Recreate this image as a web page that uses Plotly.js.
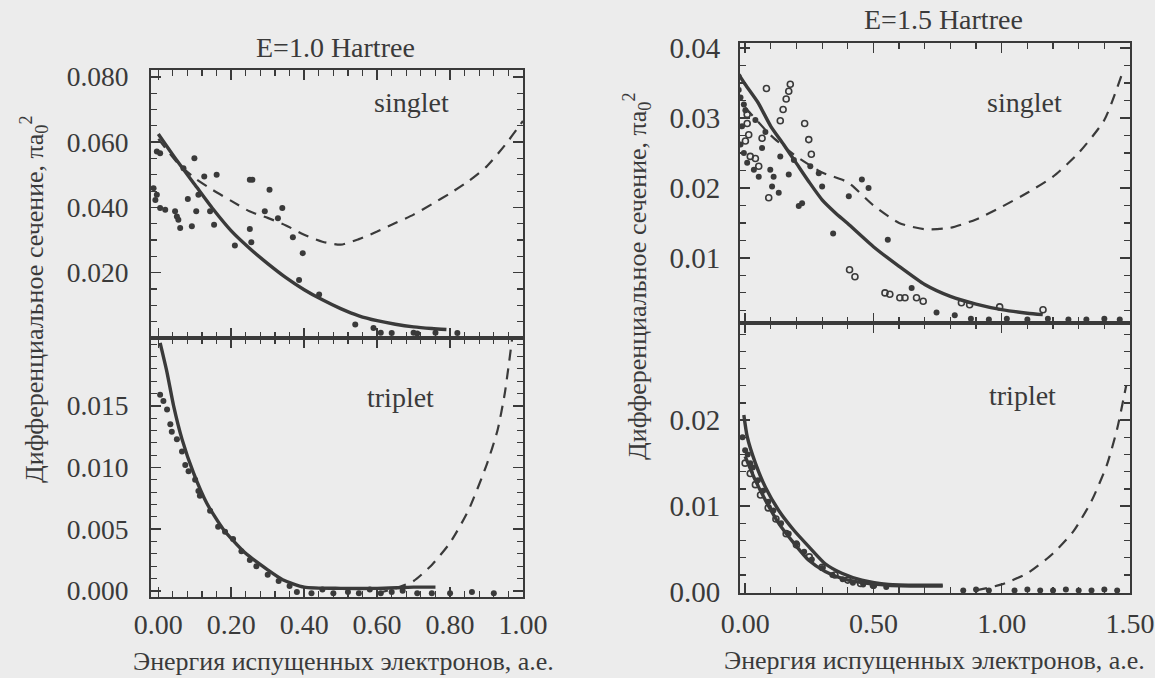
<!DOCTYPE html>
<html>
<head>
<meta charset="utf-8">
<script src="https://cdn.plot.ly/plotly-3.0.1.min.js"></script>
<style>html,body{margin:0;padding:0;background:#ececec;}#chart{width:1155px;height:678px;}</style>
</head>
<body>
<div id="chart"></div>
<script>
// ---------- E = 1.0 Hartree, singlet ----------
const s1TheoryX = [0, 0.05, 0.1, 0.15, 0.2, 0.25, 0.3, 0.35, 0.4, 0.45, 0.5, 0.55, 0.6, 0.65, 0.7, 0.75, 0.79];
const s1TheoryY = [0.0625, 0.0545, 0.047, 0.0395, 0.0328, 0.0275, 0.0228, 0.0185, 0.0148, 0.0117, 0.009, 0.0068, 0.0053, 0.0042, 0.0034, 0.0029, 0.0026];
const s1DashX = [0, 0.05, 0.1, 0.15, 0.2, 0.25, 0.3, 0.35, 0.4, 0.45, 0.5, 0.55, 0.6, 0.65, 0.7, 0.75, 0.8, 0.85, 0.9, 0.95, 1.0];
const s1DashY = [0.061, 0.054, 0.049, 0.0453, 0.042, 0.0388, 0.0368, 0.0345, 0.0316, 0.0295, 0.0286, 0.0303, 0.0326, 0.0352, 0.0378, 0.041, 0.0443, 0.048, 0.0525, 0.059, 0.0665];
const s1DotsX = [-0.004, 0.005, -0.013, -0.004, -0.008, 0.005, 0.019, 0.046, 0.051, 0.055, 0.06, 0.092, 0.081, 0.099, 0.069, 0.104, 0.126, 0.16, 0.153, 0.142, 0.11, 0.21, 0.251, 0.258, 0.251, 0.255, 0.305, 0.292, 0.328, 0.34, 0.369, 0.396, 0.386, 0.441, 0.54, 0.59, 0.61, 0.64, 0.70, 0.71, 0.76, 0.82];
const s1DotsY = [0.0571, 0.0566, 0.0459, 0.0439, 0.0423, 0.0398, 0.0393, 0.0388, 0.0372, 0.0362, 0.0337, 0.0342, 0.0426, 0.0551, 0.052, 0.0388, 0.0495, 0.050, 0.0347, 0.0388, 0.0439, 0.0283, 0.0485, 0.0485, 0.0334, 0.0293, 0.0454, 0.0388, 0.0367, 0.0398, 0.0309, 0.026, 0.0178, 0.0133, 0.0041, 0.0031, 0.0016, 0.0015, 0.0016, 0.0014, 0.0016, 0.0015];

// ---------- E = 1.0 Hartree, triplet ----------
const t1TheoryX = [0.005, 0.024, 0.042, 0.065, 0.096, 0.133, 0.178, 0.237, 0.30, 0.341, 0.4, 0.5, 0.6, 0.7, 0.76];
const t1TheoryY = [0.0201, 0.0177, 0.015, 0.0123, 0.0096, 0.0071, 0.005, 0.0031, 0.0017, 0.0009, 0.0003, 0.0002, 0.0002, 0.0003, 0.0003];
const t1DashX = [0.6, 0.65, 0.7, 0.75, 0.8, 0.85, 0.9, 0.93, 0.95, 0.97];
const t1DashY = [-0.0002, 0.0002, 0.0008, 0.0021, 0.0039, 0.0065, 0.0102, 0.013, 0.016, 0.0204];
const t1DotsX = [0.005, 0.014, 0.024, 0.033, 0.037, 0.051, 0.065, 0.074, 0.083, 0.101, 0.11, 0.114, 0.142, 0.164, 0.183, 0.205, 0.228, 0.251, 0.269, 0.30, 0.33, 0.36, 0.38, 0.42, 0.45, 0.48, 0.52, 0.55, 0.58, 0.61, 0.64, 0.67, 0.71, 0.75, 0.80, 0.86, 0.92];
const t1DotsY = [0.0159, 0.0154, 0.0147, 0.0135, 0.0129, 0.0123, 0.0113, 0.0102, 0.0097, 0.009, 0.0081, 0.0077, 0.0065, 0.0052, 0.0048, 0.0042, 0.0032, 0.0025, 0.002, 0.0013, 0.0008, 0.0004, -0.0001, -0.0002, 0.0001, -0.0002, -0.0001, -0.0002, 0.0001, -0.0002, -0.0001, 0.0, -0.0002, -0.0002, -0.0002, -0.0001, -0.0002];

// ---------- E = 1.5 Hartree, singlet ----------
const s2TheoryX = [-0.03, 0.0, 0.05, 0.1, 0.15, 0.2, 0.25, 0.3, 0.35, 0.4, 0.5, 0.6, 0.7, 0.8, 0.9, 1.0, 1.1, 1.16];
const s2TheoryY = [0.0365, 0.0348, 0.0322, 0.0288, 0.0262, 0.0235, 0.0208, 0.0183, 0.0165, 0.0149, 0.0116, 0.0088, 0.0062, 0.0045, 0.0034, 0.0026, 0.0021, 0.0019];
const s2DashX = [0, 0.1, 0.2, 0.3, 0.4, 0.5, 0.6, 0.7, 0.8, 0.9, 1.0, 1.1, 1.2, 1.3, 1.4, 1.47];
const s2DashY = [0.0315, 0.0275, 0.0245, 0.0222, 0.0208, 0.0175, 0.015, 0.0141, 0.0143, 0.0155, 0.0173, 0.0193, 0.0216, 0.025, 0.0297, 0.0364];
const s2OpenX = [0.083, 0.176, 0.17, 0.16, 0.148, 0.137, 0.232, 0.248, 0.258, 0.092, 0.008, 0.014, 0.001, 0.066, 0.04, 0.02, 0.053, 0.008, 0.407, 0.428, 0.545, 0.564, 0.603, 0.623, 0.668, 0.694, 0.843, 0.875, 0.992, 1.161];
const s2OpenY = [0.0342, 0.0348, 0.0338, 0.0327, 0.0312, 0.0296, 0.0292, 0.0269, 0.0248, 0.0186, 0.0292, 0.0276, 0.0267, 0.0271, 0.0242, 0.0245, 0.0231, 0.0305, 0.0083, 0.0073, 0.005, 0.0048, 0.0043, 0.0043, 0.0043, 0.0038, 0.0036, 0.0033, 0.003, 0.0026];
const s2DotsX = [-0.025, -0.025, -0.018, -0.005, 0.001, -0.012, -0.018, -0.005, 0.008, 0.034, 0.053, 0.04, 0.079, 0.066, 0.098, 0.111, 0.105, 0.131, 0.137, 0.17, 0.19, 0.254, 0.287, 0.30, 0.222, 0.209, 0.455, 0.481, 0.404, 0.343, 0.556, 0.649, 0.746, 0.817, 0.88, 0.95, 1.02, 1.1, 1.18, 1.26, 1.33, 1.4, 1.46];
const s2DotsY = [0.0359, 0.034, 0.0329, 0.0319, 0.0311, 0.0288, 0.0262, 0.025, 0.0236, 0.0226, 0.0216, 0.0297, 0.028, 0.0257, 0.0226, 0.0216, 0.0202, 0.0193, 0.0245, 0.0219, 0.024, 0.0231, 0.0221, 0.0202, 0.0178, 0.0174, 0.0212, 0.02, 0.0188, 0.0135, 0.0126, 0.0057, 0.0022, 0.0018, 0.0013, 0.0012, 0.0013, 0.0012, 0.0013, 0.0012, 0.0012, 0.0013, 0.0012];

// ---------- E = 1.5 Hartree, triplet ----------
const t2TheoryX = [-0.005, 0.008, 0.04, 0.079, 0.131, 0.19, 0.248, 0.312, 0.377, 0.455, 0.559, 0.69, 0.77];
const t2TheoryY = [0.0206, 0.0181, 0.015, 0.0122, 0.0095, 0.0072, 0.0053, 0.0033, 0.0022, 0.0014, 0.0009, 0.0008, 0.0008];
const t2Theory2X = [0.0, 0.04, 0.079, 0.131, 0.19, 0.248, 0.312, 0.377, 0.455, 0.559, 0.69, 0.77];
const t2Theory2Y = [0.0158, 0.013, 0.0107, 0.008, 0.0057, 0.0037, 0.0024, 0.0016, 0.0011, 0.0008, 0.0007, 0.0007];
const t2DashX = [0.9, 1.0, 1.1, 1.2, 1.28, 1.35, 1.41, 1.45, 1.485];
const t2DashY = [0.0002, 0.0009, 0.0022, 0.0045, 0.0071, 0.0106, 0.0148, 0.019, 0.024];
const t2DotsX = [-0.01, 0.0, 0.01, 0.02, 0.03, 0.05, 0.07, 0.09, 0.11, 0.14, 0.17, 0.2, 0.23, 0.26, 0.3, 0.34, 0.38, 0.42, 0.46, 0.5, 0.55, 0.85, 0.9, 0.95, 1.05, 1.1, 1.15, 1.2, 1.25, 1.3, 1.35, 1.4, 1.45];
const t2DotsY = [0.018, 0.0165, 0.016, 0.015, 0.0145, 0.013, 0.0118, 0.0105, 0.0095, 0.008, 0.0068, 0.0057, 0.0047, 0.0038, 0.0028, 0.002, 0.0015, 0.0011, 0.0009, 0.0007, 0.0006, 0.0002, 0.0003, 0.0002, 0.0002, 0.0003, 0.0002, 0.0002, 0.0003, 0.0002, 0.0002, 0.0003, 0.0002];
const t2OpenX = [0.0, 0.02, 0.04, 0.06, 0.09, 0.12, 0.16, 0.2, 0.25, 0.3, 0.35, 0.4, 0.45, 0.5];
const t2OpenY = [0.015, 0.0138, 0.0125, 0.0113, 0.0098, 0.0085, 0.0068, 0.0055, 0.0041, 0.0029, 0.002, 0.0014, 0.001, 0.0008];

// ---------- text ----------
const panelTitles = ['E=1.0 Hartree', 'E=1.5 Hartree'];
const stateLabels = ['singlet', 'triplet'];
const yTitle = 'Дифференциальное сечение, πa<sub>0</sub><sup>2</sup>';
const xTitle = 'Энергия испущенных электронов, а.е.';

const INK = '#3a3a3a';
const FONT = 'Liberation Serif, Times New Roman, DejaVu Serif, serif';

function solid(x, y, xa, ya) {
  return {x, y, xaxis: xa, yaxis: ya, type: 'scatter', mode: 'lines', line: {color: INK, width: 3.4, shape: 'spline', smoothing: 0.6}, hoverinfo: 'skip'};
}
function dashed(x, y, xa, ya) {
  return {x, y, xaxis: xa, yaxis: ya, type: 'scatter', mode: 'lines', line: {color: INK, width: 2.2, dash: '11px,8px', shape: 'spline', smoothing: 0.6}, hoverinfo: 'skip'};
}
function dots(x, y, xa, ya) {
  return {x, y, xaxis: xa, yaxis: ya, type: 'scatter', mode: 'markers', marker: {color: INK, size: 6, symbol: 'circle'}, hoverinfo: 'skip'};
}
function opens(x, y, xa, ya) {
  return {x, y, xaxis: xa, yaxis: ya, type: 'scatter', mode: 'markers', marker: {color: INK, size: 6, symbol: 'circle-open', line: {width: 1.6, color: INK}}, hoverinfo: 'skip'};
}

const data = [
  dots(s1DotsX, s1DotsY, 'x', 'y'),
  dashed(s1DashX, s1DashY, 'x', 'y'),
  solid(s1TheoryX, s1TheoryY, 'x', 'y'),
  dots(t1DotsX, t1DotsY, 'x2', 'y2'),
  dashed(t1DashX, t1DashY, 'x2', 'y2'),
  solid(t1TheoryX, t1TheoryY, 'x2', 'y2'),
  opens(s2OpenX, s2OpenY, 'x3', 'y3'),
  dots(s2DotsX, s2DotsY, 'x3', 'y3'),
  dashed(s2DashX, s2DashY, 'x3', 'y3'),
  solid(s2TheoryX, s2TheoryY, 'x3', 'y3'),
  opens(t2OpenX, t2OpenY, 'x4', 'y4'),
  dots(t2DotsX, t2DotsY, 'x4', 'y4'),
  dashed(t2DashX, t2DashY, 'x4', 'y4'),
  solid(t2TheoryX, t2TheoryY, 'x4', 'y4'),
  solid(t2Theory2X, t2Theory2Y, 'x4', 'y4')
];

const W = 1155, H = 678;
const px = v => v / W;
const py = v => 1 - v / H;

function axis(o) {
  return Object.assign({
    showline: true, linecolor: INK, linewidth: 2, mirror: 'ticks',
    ticks: 'inside', ticklen: 10, tickwidth: 1.5, tickcolor: INK,
    showgrid: false, zeroline: false, fixedrange: true,
    tickfont: {family: FONT, size: 27, color: INK},
    ticklabelstandoff: 8
  }, o);
}
const minor = d => ({dtick: d, ticks: 'inside', ticklen: 6, tickwidth: 1.2, tickcolor: INK, showgrid: false});
const tf = s => ({family: FONT, size: s, color: INK});

const L = [px(151), px(523)], R = [px(740), px(1130)];

const layout = {
  width: W, height: H,
  margin: {l: 0, r: 0, t: 0, b: 0},
  paper_bgcolor: '#ececec', plot_bgcolor: '#ececec',
  showlegend: false,
  font: {family: FONT, color: INK, size: 27},
  xaxis: axis({domain: L, anchor: 'y', range: [-0.02, 1.0], tick0: 0, dtick: 0.2, showticklabels: false, minor: minor(0.04)}),
  yaxis: axis({domain: [py(338), py(70)], anchor: 'x', range: [0, 0.0821], tickvals: [0.02, 0.04, 0.06, 0.08], tickformat: '.3f', minor: minor(0.005), ticklabelstandoff: 15, tickfont: tf(27.5)}),
  xaxis2: axis({domain: L, anchor: 'y2', range: [-0.02, 1.0], tick0: 0, dtick: 0.2, tickformat: '.2f', minor: minor(0.04), ticklabelstandoff: 1, tickfont: tf(28)}),
  yaxis2: axis({domain: [py(597), py(338)], anchor: 'x2', range: [-0.0005, 0.0205], tickvals: [0, 0.005, 0.010, 0.015], tickformat: '.3f', minor: minor(0.001), ticklabelstandoff: 15, tickfont: tf(27.5)}),
  xaxis3: axis({domain: R, anchor: 'y3', range: [-0.02, 1.5], tick0: 0, dtick: 0.5, showticklabels: false, minor: minor(0.1)}),
  yaxis3: axis({domain: [py(323), py(43)], anchor: 'x3', range: [0.0007, 0.0407], tickvals: [0.01, 0.02, 0.03, 0.04], tickformat: '.2f', minor: minor(0.0025), ticklabelstandoff: 12, tickfont: tf(29)}),
  xaxis4: axis({domain: R, anchor: 'y4', range: [-0.02, 1.5], tick0: 0, dtick: 0.5, tickformat: '.2f', minor: minor(0.1), ticklabelstandoff: 4, tickfont: tf(28)}),
  yaxis4: axis({domain: [py(593), py(323)], anchor: 'x4', range: [-0.0001, 0.0313], tickvals: [0, 0.01, 0.02], tickformat: '.2f', minor: minor(0.002), ticklabelstandoff: 12, tickfont: tf(29)}),
  annotations: [
    {text: panelTitles[0], x: px(335), y: py(47), size: 28},
    {text: panelTitles[1], x: px(943), y: py(20), size: 28},
    {text: stateLabels[0], x: px(411), y: py(103), size: 28},
    {text: stateLabels[1], x: px(400), y: py(397), size: 28},
    {text: stateLabels[0], x: px(1024), y: py(102), size: 28},
    {text: stateLabels[1], x: px(1022), y: py(395), size: 28},
    {text: yTitle, x: px(34), y: py(300), size: 26, angle: -90},
    {text: yTitle, x: px(637), y: py(277), size: 26, angle: -90},
    {text: xTitle, x: px(343), y: py(661), size: 26},
    {text: xTitle, x: px(934), y: py(660), size: 26}
  ].map(a => ({
    text: a.text, x: a.x, y: a.y, xref: 'paper', yref: 'paper',
    xanchor: 'center', yanchor: 'middle', showarrow: false,
    textangle: a.angle || 0,
    font: {family: FONT, size: a.size, color: INK}
  }))
};

Plotly.newPlot('chart', data, layout, {displayModeBar: false, staticPlot: true});
</script>
</body>
</html>
